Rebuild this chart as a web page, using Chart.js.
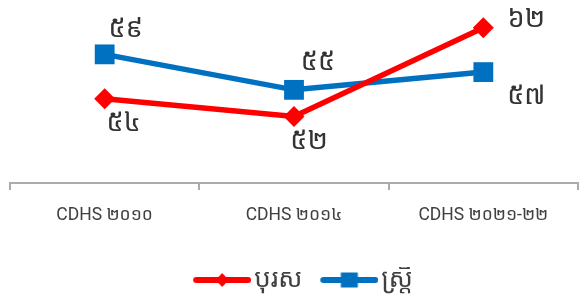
<!DOCTYPE html>
<html>
<head>
<meta charset="utf-8">
<script src="https://cdn.jsdelivr.net/npm/chart.js@4.4.1/dist/chart.umd.min.js"></script>
<style>
html,body{margin:0;padding:0;background:#fff;}
#contenedor{width:580px;height:298px;}
</style>
</head>
<body>
<div id="contenedor"><canvas id="grafica"></canvas></div>
<script>
// datos de la grafica
var categorias = ["CDHS ២០១០", "CDHS ២០១៤", "CDHS ២០២១-២២"];
var nombresSeries = ["បុរស", "ស្ត្រី"];
var valoresHombres = [54, 52, 62];
var valoresMujeres = [59, 55, 57];

var colorRojo = '#FF0000';
var colorAzul = '#0070C0';
var fuente = "Roboto, 'Noto Sans Khmer', 'Khmer OS', 'Noto Sans', sans-serif";

// pasar numeros a digitos khmer
function numKhmer(n){
  return String(n).replace(/[0-9]/g, function(d){ return String.fromCharCode(0x17E0 + Number(d)); });
}

// icono de la leyenda: linea con marcador (con margen vacio a la izquierda)
function iconoLeyenda(color, estilo){
  var c = document.createElement('canvas');
  c.width = 86; c.height = 20;
  var x = c.getContext('2d');
  x.strokeStyle = color; x.lineWidth = 6; x.lineCap = 'round';
  x.beginPath(); x.moveTo(31,10); x.lineTo(83,10); x.stroke();
  x.fillStyle = color;
  x.beginPath();
  if (estilo == 'diamante'){ x.moveTo(57,3); x.lineTo(63.5,10); x.lineTo(57,17); x.lineTo(50.5,10); x.closePath(); }
  else { x.rect(48.5,2.5,17,15); }
  x.fill();
  return c;
}
var iconos = [iconoLeyenda(colorRojo, 'diamante'), iconoLeyenda(colorAzul, 'cuadrado')];

// etiquetas de datos (sin plugin externo)
var pluginEtiquetas = {
  id: 'etiquetas',
  afterDatasetsDraw: function(chart, args, opts){
    var ctx = chart.ctx;
    ctx.save();
    ctx.font = opts.size + 'px ' + fuente;
    ctx.fillStyle = opts.color;
    ctx.textAlign = 'center';
    ctx.textBaseline = 'middle';
    chart.data.datasets.forEach(function(ds, i){
      var meta = chart.getDatasetMeta(i);
      meta.data.forEach(function(p, j){
        var d = opts.desplazamientos[i][j];
        ctx.fillText(numKhmer(ds.data[j]), p.x + d[0], p.y + d[1]);
      });
    });
    ctx.restore();
  }
};

new Chart(document.getElementById('grafica'), {
  type: 'line',
  data: {
    labels: categorias,
    datasets: [
      {
        label: nombresSeries[0],
        data: valoresHombres,
        borderColor: colorRojo,
        backgroundColor: colorRojo,
        borderWidth: 5.5,
        pointStyle: 'rectRot',
        pointRadius: 10.5,
        pointBorderWidth: 0,
        tension: 0
      },
      {
        label: nombresSeries[1],
        data: valoresMujeres,
        borderColor: colorAzul,
        backgroundColor: colorAzul,
        borderWidth: 5.5,
        pointStyle: 'rect',
        pointRadius: 14,
        pointBorderWidth: 0,
        tension: 0
      }
    ]
  },
  options: {
    responsive: true,
    maintainAspectRatio: false,
    animation: false,
    layout: { autoPadding: false, padding: { left: 10, right: 2, top: 10, bottom: -5 } },
    scales: {
      x: {
        offset: true,
        grid: { offset: true, drawOnChartArea: false, tickLength: 7, color: '#ABABAB', lineWidth: 2 },
        border: { display: true, color: '#ABABAB', width: 2 },
        ticks: { color: '#404040', font: { size: 17.5, family: fuente }, padding: 15 },
        afterFit: function(scale){ scale.height += 26; }
      },
      y: { display: false, min: 44.5, max: 64 }
    },
    plugins: {
      tooltip: { enabled: false },
      legend: {
        position: 'bottom',
        labels: {
          usePointStyle: true,
          pointStyleWidth: 66,
          color: '#404040',
          font: { size: 26, family: fuente },
          padding: 0,
          generateLabels: function(chart){
            var items = Chart.defaults.plugins.legend.labels.generateLabels(chart);
            items.forEach(function(it, i){ it.pointStyle = iconos[i]; });
            return items;
          }
        }
      },
      etiquetas: {
        size: 27,
        color: '#333333',
        desplazamientos: [
          [[19, 26], [15, 26], [43, -7]],
          [[21, -24], [24, -27], [43, 25]]
        ]
      }
    }
  },
  plugins: [pluginEtiquetas]
});
</script>
</body>
</html>
